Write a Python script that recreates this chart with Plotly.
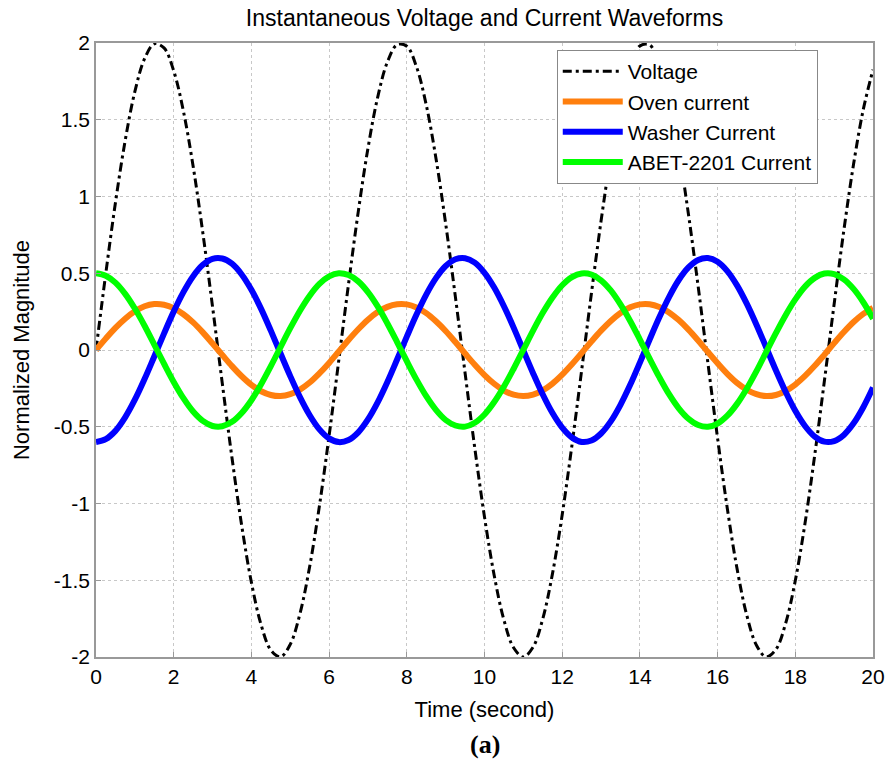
import plotly.graph_objects as go

time_s = [0, 0.25, 0.5, 0.75, 1, 1.25, 1.5, 1.75, 2, 2.25,
          2.5, 2.75, 3, 3.25, 3.5, 3.75, 4, 4.25, 4.5, 4.75,
          5, 5.25, 5.5, 5.75, 6, 6.25, 6.5, 6.75, 7, 7.25,
          7.5, 7.75, 8, 8.25, 8.5, 8.75, 9, 9.25, 9.5, 9.75,
          10, 10.25, 10.5, 10.75, 11, 11.25, 11.5, 11.75, 12, 12.25,
          12.5, 12.75, 13, 13.25, 13.5, 13.75, 14, 14.25, 14.5, 14.75,
          15, 15.25, 15.5, 15.75, 16, 16.25, 16.5, 16.75, 17, 17.25,
          17.5, 17.75, 18, 18.25, 18.5, 18.75, 19, 19.25, 19.5, 19.75,
          20]

voltage = [0, 0.495, 0.959, 1.363, 1.683, 1.898, 1.995, 1.968, 1.819, 1.556,
           1.197, 0.763, 0.282, -0.216, -0.702, -1.143, -1.514, -1.790, -1.955, -1.999,
           -1.918, -1.718, -1.411, -1.017, -0.559, -0.066, 0.430, 0.900, 1.314, 1.646,
           1.876, 1.989, 1.979, 1.845, 1.597, 1.250, 0.824, 0.348, -0.150, -0.639,
           -1.088, -1.469, -1.759, -1.940, -2.000, -1.936, -1.751, -1.457, -1.073, -0.622,
           -0.133, 0.365, 0.840, 1.263, 1.608, 1.852, 1.981, 1.987, 1.870, 1.636,
           1.301, 0.884, 0.413, -0.084, -0.576, -1.032, -1.424, -1.727, -1.923, -1.999,
           -1.951, -1.782, -1.502, -1.129, -0.685, -0.199, 0.300, 0.780, 1.211, 1.567,
           1.826]

oven = [0, 0.074, 0.144, 0.204, 0.252, 0.285, 0.299, 0.295, 0.273, 0.233,
        0.180, 0.115, 0.042, -0.032, -0.105, -0.171, -0.227, -0.269, -0.293, -0.300,
        -0.288, -0.258, -0.212, -0.152, -0.084, -0.010, 0.065, 0.135, 0.197, 0.247,
        0.281, 0.298, 0.297, 0.277, 0.240, 0.187, 0.124, 0.052, -0.023, -0.096,
        -0.163, -0.220, -0.264, -0.291, -0.300, -0.290, -0.263, -0.219, -0.161, -0.093,
        -0.020, 0.055, 0.126, 0.189, 0.241, 0.278, 0.297, 0.298, 0.280, 0.245,
        0.195, 0.133, 0.062, -0.013, -0.086, -0.155, -0.214, -0.259, -0.288, -0.300,
        -0.293, -0.267, -0.225, -0.169, -0.103, -0.030, 0.045, 0.117, 0.182, 0.235,
        0.274]

washer = [-0.600, -0.581, -0.527, -0.439, -0.324, -0.189, -0.042, 0.107, 0.250, 0.377,
          0.481, 0.555, 0.594, 0.596, 0.562, 0.492, 0.392, 0.268, 0.126, -0.023,
          -0.170, -0.307, -0.425, -0.517, -0.576, -0.600, -0.586, -0.536, -0.452, -0.341,
          -0.208, -0.062, 0.087, 0.231, 0.361, 0.468, 0.547, 0.591, 0.598, 0.569,
          0.503, 0.407, 0.285, 0.146, -0.003, -0.151, -0.290, -0.411, -0.506, -0.570,
          -0.599, -0.590, -0.544, -0.465, -0.357, -0.227, -0.082, 0.068, 0.213, 0.345,
          0.456, 0.538, 0.587, 0.599, 0.575, 0.514, 0.421, 0.302, 0.165, 0.017,
          -0.132, -0.272, -0.396, -0.495, -0.564, -0.597, -0.593, -0.553, -0.478, -0.373,
          -0.245]

abet = [0.500, 0.484, 0.439, 0.366, 0.270, 0.158, 0.035, -0.089, -0.208, -0.314,
        -0.401, -0.462, -0.495, -0.497, -0.468, -0.410, -0.327, -0.223, -0.105, 0.019,
        0.142, 0.256, 0.354, 0.431, 0.480, 0.500, 0.488, 0.447, 0.377, 0.284,
        0.173, 0.052, -0.073, -0.193, -0.301, -0.390, -0.456, -0.492, -0.499, -0.474,
        -0.420, -0.339, -0.238, -0.122, 0.002, 0.126, 0.242, 0.342, 0.422, 0.475,
        0.499, 0.492, 0.454, 0.388, 0.297, 0.189, 0.068, -0.056, -0.177, -0.288,
        -0.380, -0.448, -0.489, -0.500, -0.479, -0.428, -0.351, -0.252, -0.138, -0.014,
        0.110, 0.227, 0.330, 0.413, 0.470, 0.498, 0.494, 0.460, 0.398, 0.311,
        0.204]

x_ticks = [0, 2, 4, 6, 8, 10, 12, 14, 16, 18, 20]
y_ticks = [-2, -1.5, -1, -0.5, 0, 0.5, 1, 1.5, 2]
y_tick_text = ["-2", "-1.5", "-1", "-0.5", "0", "0.5", "1", "1.5", "2"]

FONT = "Liberation Sans, Arial, sans-serif"

fig = go.Figure()
fig.add_trace(go.Scatter(x=time_s, y=voltage, name="Voltage", mode="lines",
                         line=dict(color="black", width=3, dash="9px,4px,3px,4px", shape="spline")))
fig.add_trace(go.Scatter(x=time_s, y=oven, name="Oven current", mode="lines",
                         line=dict(color="#ff7f0e", width=6, shape="spline")))
fig.add_trace(go.Scatter(x=time_s, y=washer, name="Washer Current", mode="lines",
                         line=dict(color="#0000ff", width=6, shape="spline")))
fig.add_trace(go.Scatter(x=time_s, y=abet, name="ABET-2201 Current", mode="lines",
                         line=dict(color="#00ff00", width=6, shape="spline")))

axis_common = dict(showline=True, mirror=True, linecolor="#999999", linewidth=1.5,
                   showgrid=True, gridcolor="#c8c8c8", griddash="dot", gridwidth=1,
                   ticks="inside", ticklen=5, tickcolor="#999999", zeroline=False,
                   automargin=False,
                   tickfont=dict(family=FONT, size=21, color="black"))

fig.update_layout(
    width=889, height=761,
    margin=dict(l=96, r=16, t=43, b=104),
    paper_bgcolor="white", plot_bgcolor="white",
    font=dict(family=FONT, color="black"),
    title=dict(text="Instantaneous Voltage and Current Waveforms", xref="paper", x=0.5,
               xanchor="center", yref="container", y=1 - 18 / 761, yanchor="middle",
               font=dict(family=FONT, size=23, color="black")),
    xaxis=dict(range=[0, 20], tickvals=x_ticks,
               title=dict(text="Time (second)", font=dict(family=FONT, size=22), standoff=15),
               **axis_common),
    yaxis=dict(range=[-2, 2], tickvals=y_ticks, ticktext=y_tick_text,
               title=dict(text="Normalized Magnitude", font=dict(family=FONT, size=22), standoff=18),
               **axis_common),
    legend=dict(x=0.593, y=0.9886, xanchor="left", yanchor="top",
                bgcolor="white", bordercolor="#888888", borderwidth=1,
                itemwidth=60,
                font=dict(family=FONT, size=21), tracegroupgap=0),
    showlegend=True,
)

fig.add_annotation(text="<b>(a)</b>", xref="paper", yref="paper", x=0.5, y=-0.1433,
                   xanchor="center", yanchor="middle", showarrow=False,
                   font=dict(family="Liberation Serif, Times New Roman, serif", size=26, color="black"))

fig.write_html("out.html")
